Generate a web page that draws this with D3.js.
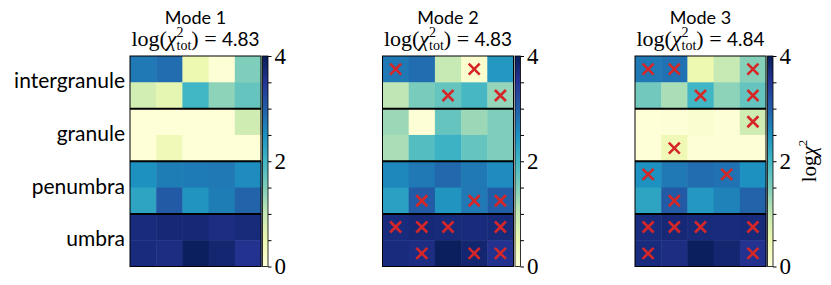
<!DOCTYPE html>
<html>
<head>
<meta charset="utf-8">
<script src="https://cdn.jsdelivr.net/npm/d3@7"></script>
<style>
  body { margin: 0; background: #fff; }
  svg { display: block; }
</style>
</head>
<body>
<svg id="chart" width="831" height="285"></svg>
<script>
var SANS = 'Lato, "Open Sans", sans-serif';
var SERIF = '"Liberation Serif", "DejaVu Serif", serif';

// regions (each one spans two rows of the grid)
var regions = ['intergranule', 'granule', 'penumbra', 'umbra'];
var columns = [0, 1, 2, 3, 4];

var modeTitles = ['Mode 1', 'Mode 2', 'Mode 3'];
var chiTot = ['4.83', '4.83', '4.84'];

// log chi^2 per cell, 8 rows x 5 columns
var mode1 = [
  [2.75, 2.85, 0.5, 0.05, 1.5],
  [0.85, 0.6, 2.0, 1.4, 1.7],
  [0.02, 0.02, 0.02, 0.02, 0.9],
  [0.02, 0.4, 0.02, 0.02, 0.02],
  [2.5, 2.7, 2.72, 2.75, 2.55],
  [2.25, 3.05, 2.45, 2.7, 2.95],
  [3.7, 3.75, 3.75, 3.65, 3.72],
  [3.7, 3.65, 3.95, 3.8, 3.55]
];
var mode2 = [
  [2.75, 2.85, 1.0, 0.15, 2.4],
  [1.05, 1.55, 1.7, 1.95, 1.35],
  [1.3, 0.05, 1.7, 1.3, 1.5],
  [1.2, 1.85, 2.05, 1.7, 1.5],
  [2.6, 2.75, 2.9, 2.75, 2.55],
  [2.3, 3.05, 2.45, 2.75, 3.0],
  [3.7, 3.75, 3.72, 3.7, 3.72],
  [3.7, 3.65, 3.95, 3.8, 3.55]
];
var mode3 = [
  [2.75, 2.8, 0.5, 1.0, 1.45],
  [1.6, 1.2, 2.0, 1.4, 1.7],
  [0.02, 0.05, 0.15, 0.05, 0.9],
  [0.02, 0.45, 0.05, 0.05, 0.05],
  [2.5, 2.75, 2.85, 2.8, 2.5],
  [2.25, 3.05, 2.4, 2.65, 2.95],
  [3.7, 3.75, 3.72, 3.7, 3.72],
  [3.7, 3.65, 3.95, 3.8, 3.55]
];

// flagged cells [row, col]
var marks1 = [];
var marks2 = [[0,0],[0,3],[1,2],[1,4],[5,1],[5,3],[5,4],[6,0],[6,1],[6,2],[6,4],[7,1],[7,3],[7,4]];
var marks3 = [[0,0],[0,1],[0,4],[1,2],[1,4],[2,4],[3,1],[4,0],[4,3],[5,1],[6,0],[6,1],[6,2],[6,4],[7,0],[7,4]];

var cbTicks = [0, 0.5, 1, 1.5, 2, 2.5, 3, 3.5, 4];
var cbLabels = [0, 2, 4];

var panels = [
  {title: modeTitles[0], chi: chiTot[0], grid: mode1, marks: marks1, x0: 130},
  {title: modeTitles[1], chi: chiTot[1], grid: mode2, marks: marks2, x0: 382.5},
  {title: modeTitles[2], chi: chiTot[2], grid: mode3, marks: marks3, x0: 635}
];

var cellW = 131, plotTop = 56, plotBottom = 266.5;

var svg = d3.select('#chart');

var color = d3.scaleLinear()
  .domain(d3.range(9).map(function(i){ return i * 0.5; }))
  .range(d3.schemeYlGnBu[9]);

// vertical gradient for colorbars
var grad = svg.append('defs').append('linearGradient')
  .attr('id', 'cbgrad')
  .attr('x1', 0).attr('y1', 1).attr('x2', 0).attr('y2', 0);
d3.range(0, 4.01, 0.25).forEach(function(v){
  grad.append('stop').attr('offset', v / 4).attr('stop-color', color(v));
});

var rowIdx = d3.range(8);
var y = d3.scaleBand().domain(rowIdx).range([plotTop, plotBottom]);

panels.forEach(function(p){
  var x = d3.scaleBand().domain(columns).range([p.x0, p.x0 + cellW]);
  var g = svg.append('g');

  var cells = [];
  p.grid.forEach(function(row, r){
    row.forEach(function(v, c){ cells.push({r: r, c: c, v: v}); });
  });

  g.selectAll('rect.cell').data(cells).enter().append('rect')
    .attr('class', 'cell')
    .attr('x', function(d){ return x(d.c); })
    .attr('y', function(d){ return y(d.r); })
    .attr('width', x.bandwidth() + 0.5)
    .attr('height', y.bandwidth() + 0.5)
    .attr('fill', function(d){ return color(d.v); });

  // region separators
  g.selectAll('line.sep').data([2, 4, 6]).enter().append('line')
    .attr('x1', p.x0).attr('x2', p.x0 + cellW)
    .attr('y1', function(d){ return y(d); })
    .attr('y2', function(d){ return y(d); })
    .attr('stroke', '#000').attr('stroke-width', 2);

  g.append('rect')
    .attr('x', p.x0).attr('y', plotTop)
    .attr('width', cellW).attr('height', plotBottom - plotTop)
    .attr('fill', 'none').attr('stroke', '#000').attr('stroke-width', 1);

  // red crosses
  var s = 5.5;
  g.selectAll('path.mark').data(p.marks).enter().append('path')
    .attr('class', 'mark')
    .attr('d', function(d){
      var cx = x(d[1]) + x.bandwidth() / 2, cy = y(d[0]) + y.bandwidth() / 2;
      var path = d3.path();
      path.moveTo(cx - s, cy - s); path.lineTo(cx + s, cy + s);
      path.moveTo(cx - s, cy + s); path.lineTo(cx + s, cy - s);
      return path.toString();
    })
    .attr('stroke', '#d62728').attr('stroke-width', 2.6).attr('fill', 'none');

  // titles
  var cx = p.x0 + cellW / 2;
  g.append('text')
    .style('font-family', SANS)
    .attr('x', cx).attr('y', 24)
    .attr('text-anchor', 'middle').attr('font-size', 18)
    .text(p.title);

  var t = g.append('text')
    .style('font-family', SERIF)
    .attr('x', cx).attr('y', 46)
    .attr('text-anchor', 'middle').attr('font-size', 22);
  t.append('tspan').text('log(');
  t.append('tspan').attr('font-style', 'italic').text('χ');
  t.append('tspan').attr('font-size', 14).attr('dy', -9).text('2');
  t.append('tspan').attr('font-size', 14).attr('dx', -7).attr('dy', 13).text('tot');
  t.append('tspan').attr('dy', -4).text(') = ');
  t.append('tspan').style('font-family', SANS).attr('font-size', 19).text(p.chi);

  // colorbar
  var cbX = p.x0 + cellW + 1.5, cbW = 5.5;
  var cy2 = d3.scaleLinear().domain([0, 4]).range([plotBottom, plotTop]);
  g.append('rect')
    .attr('x', cbX).attr('y', plotTop)
    .attr('width', cbW).attr('height', plotBottom - plotTop)
    .attr('fill', 'url(#cbgrad)')
    .attr('stroke', '#000').attr('stroke-width', 0.8);

  var axis = d3.axisRight(cy2)
    .tickValues(cbTicks)
    .tickSize(3.5)
    .tickPadding(3)
    .tickFormat(function(d){ return cbLabels.indexOf(d) >= 0 ? d : ''; });
  var ag = g.append('g')
    .attr('transform', 'translate(' + (cbX + cbW) + ',0)')
    .call(axis);
  ag.select('.domain').remove();
  ag.selectAll('text')
    .style('font-family', SERIF)
    .attr('font-size', 23)
    .attr('fill', '#000');
});

// region labels on the left
svg.selectAll('text.region').data(regions).enter().append('text')
  .attr('class', 'region')
  .style('font-family', SANS)
  .attr('x', 125)
  .attr('y', function(d, i){ return y(2 * i + 1) + 6; })
  .attr('text-anchor', 'end')
  .attr('font-size', 21)
  .text(function(d){ return d; });

// colorbar label
var lab = svg.append('text')
  .style('font-family', SERIF)
  .attr('transform', 'translate(816,161) rotate(-90)')
  .attr('text-anchor', 'middle')
  .attr('font-size', 21);
lab.append('tspan').text('log');
lab.append('tspan').attr('font-style', 'italic').text('χ');
lab.append('tspan').attr('font-size', 13).attr('dy', -9).text('2');
</script>
</body>
</html>
